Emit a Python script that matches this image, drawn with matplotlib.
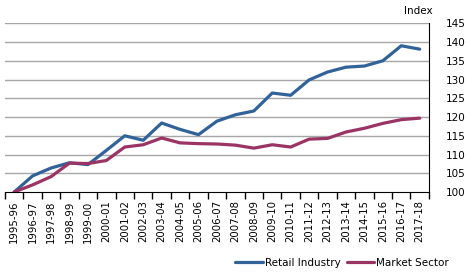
import matplotlib.pyplot as plt
import numpy as np

# Data
years = ["1995-96", "1996-97", "1997-98", "1998-99", "1999-00", "2000-01",
         "2001-02", "2002-03", "2003-04", "2004-05", "2005-06", "2006-07",
         "2007-08", "2008-09", "2009-10", "2010-11", "2011-12", "2012-13",
         "2013-14", "2014-15", "2015-16", "2016-17", "2017-18"]
retail = [100.0, 104.3, 106.4, 107.8, 107.3, 111.1, 115.0, 113.8, 118.4,
          116.7, 115.3, 118.9, 120.6, 121.6, 126.4, 125.8, 129.9, 132.0,
          133.3, 133.6, 135.0, 139.0, 138.1]
market = [100.0, 101.9, 104.1, 107.7, 107.6, 108.4, 112.0, 112.6, 114.4,
          113.1, 112.9, 112.8, 112.5, 111.7, 112.6, 112.0, 114.1, 114.3,
          116.0, 117.0, 118.3, 119.3, 119.7]

blue = "#31639A"
maroon = "#9B3465"

fig = plt.figure(figsize=(4.7, 2.73), dpi=100)
ax = fig.add_axes([0.0106, 0.2967, 0.902, 0.618])

x = np.arange(len(years))
ax.plot(x, retail, color=blue, lw=2.3, label="Retail Industry", solid_capstyle="round")
ax.plot(x, market, color=maroon, lw=2.3, label="Market Sector", solid_capstyle="round")

ax.set_xlim(-0.5, len(years) - 0.5)
ax.set_ylim(100, 145)
ax.set_yticks(np.arange(100, 146, 5))
ax.yaxis.tick_right()
ax.tick_params(axis="y", length=0, pad=12, labelsize=7.5)
for y in range(105, 146, 5):
    ax.axhline(y, color="#A6A6A6", lw=1, zorder=0)

# category labels at centres, tick marks on boundaries
ax.set_xticks(x)
ax.set_xticklabels(years, rotation=90, fontsize=7.3)
ax.tick_params(axis="x", length=0, pad=6)
ax.set_xticks(np.arange(-0.5, len(years)), minor=True)
ax.tick_params(axis="x", which="minor", length=5, width=1, color="black")

ax.spines["top"].set_visible(False)
ax.spines["left"].set_visible(False)
ax.spines["right"].set_color("black")
ax.spines["bottom"].set_color("black")

fig.text(418 / 470, 1 - 11 / 273, "Index", ha="center", va="center", fontsize=7.5)

fig.legend(loc="center", bbox_to_anchor=(342 / 470, 1 - 263 / 273), ncol=2,
           frameon=False, fontsize=7.5, handlelength=2.6, handletextpad=0.2,
           columnspacing=0.6)

fig.savefig("out.png", dpi=100)
